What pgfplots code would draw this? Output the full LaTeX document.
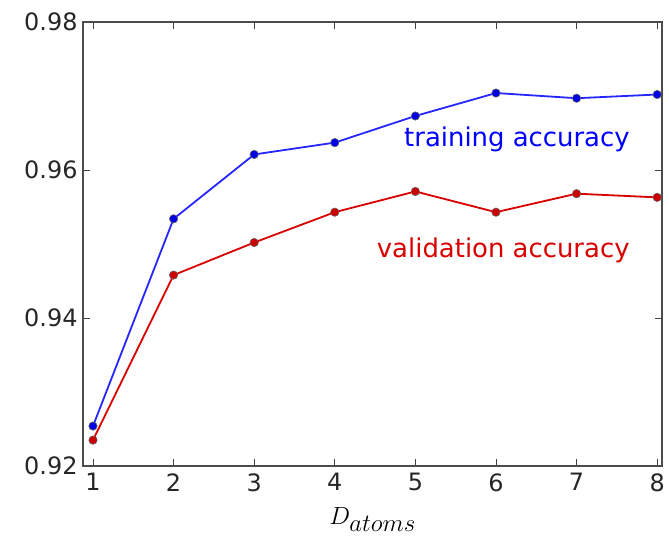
\documentclass[border=0pt]{standalone}
\usepackage{pgfplots}
\pgfplotsset{compat=1.18}
\usepackage{fontspec}
\setmainfont{DejaVu Sans}
\begin{document}
\begin{tikzpicture}[x=1bp,y=1bp]
\useasboundingbox (0,0) rectangle (669bp,539bp);
\begin{axis}[
  at={(83bp,73bp)}, anchor=south west,
  scale only axis, width=579bp, height=444bp,
  xmin=0.876, xmax=8.06, ymin=0.92, ymax=0.98,
  xtick={1,...,8}, ytick={0.92,0.94,0.96,0.98},
  yticklabel style={/pgf/number format/fixed, /pgf/number format/precision=2, /pgf/number format/fixed zerofill, xshift=-2bp},
  xticklabel style={yshift=-4bp},
  /pgf/number format/assume math mode=true,
  tick align=inside, tick style={color=black!75, line width=0.8bp}, major tick length=7bp,
  axis line style={color=black!70, line width=1.2bp},
  ticklabel style={font=\fontsize{24}{28}\selectfont, text=black!85},
  xlabel={$D_{atoms}$},
  xlabel style={font=\fontsize{35}{40}\selectfont, yshift=-9bp},
  clip=false,
]
\addplot[color=blue!85, line width=1.8bp, mark=*, mark size=4.2bp, mark options={fill=blue!90!black, draw=black!60, line width=0.6bp}]
 coordinates {(1,0.9254) (2,0.9534) (3,0.9621) (4,0.9637) (5,0.9673) (6,0.9704) (7,0.9697) (8,0.9702)};
\addplot[color=red!85!black, line width=1.8bp, mark=*, mark size=4.2bp, mark options={fill=red!80!black, draw=black!60, line width=0.6bp}]
 coordinates {(1,0.9235) (2,0.9458) (3,0.9502) (4,0.9543) (5,0.9571) (6,0.9543) (7,0.9568) (8,0.9563)};
\node[text=blue, font=\fontsize{26}{30}\selectfont, anchor=center] at (axis cs:6.26,0.9641) {training accuracy};
\node[text=red!85!black, font=\fontsize{26}{30}\selectfont, anchor=center] at (axis cs:6.09,0.9492) {validation accuracy};
\end{axis}
\end{tikzpicture}
\end{document}
